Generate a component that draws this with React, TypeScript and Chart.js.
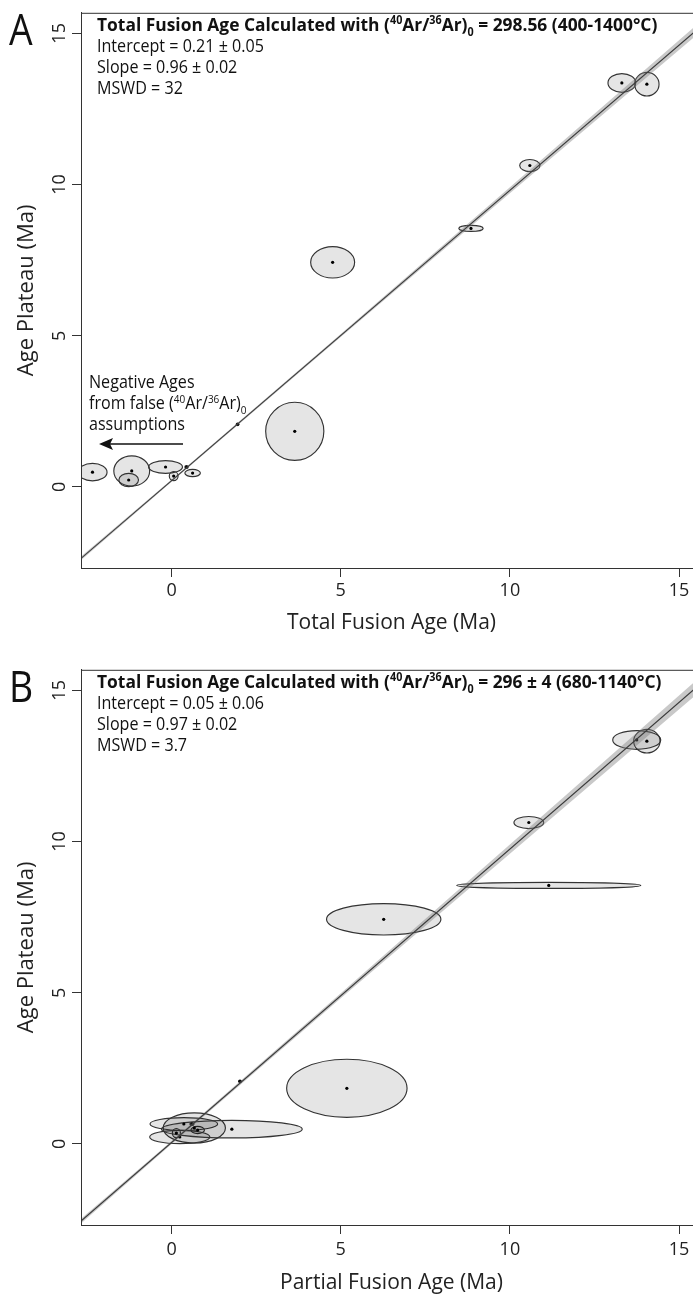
import React, { useEffect, useRef } from 'react';
import { Chart, registerables } from 'chart.js';

Chart.register(...registerables);

// ---------- shared axis ticks ----------
const xTicks = [0, 5, 10, 15];
const yTicks = [0, 5, 10, 15];
const axisMin = -2.68;
const axisMax = 15.68;

// ---------- data (Age Plateau is common to both panels) ----------
const plateauAge = [13.32, 13.36, 10.63, 8.55, 7.43, 1.84, 2.07, 0.46, 0.66, 0.36, 0.66, 0.53, 0.23, 0.49];
const plateauErr = [0.39, 0.31, 0.2, 0.1, 0.52, 0.96, 0.04, 0.12, 0.05, 0.15, 0.21, 0.5, 0.22, 0.29];

const totalFusionAge = [14.05, 13.31, 10.59, 8.85, 4.76, 3.64, 1.95, 0.62, 0.44, 0.06, -0.18, -1.18, -1.27, -2.34];
const totalFusionErr = [0.36, 0.41, 0.3, 0.36, 0.65, 0.86, 0.04, 0.23, 0.05, 0.13, 0.5, 0.53, 0.29, 0.43];

const partialFusionAge = [14.05, 13.75, 10.56, 11.15, 6.27, 5.18, 2.02, 0.77, 0.6, 0.14, 0.36, 0.67, 0.24, 1.78];
const partialFusionErr = [0.39, 0.71, 0.44, 2.72, 1.69, 1.78, 0.04, 0.2, 0.06, 0.12, 1.0, 0.92, 0.89, 2.08];

// regression fits (from the printed results)
const interceptA = 0.21;
const slopeA = 0.96;
const interceptB = 0.05;
const slopeB = 0.97;

// confidence envelope half-widths read at a few x positions
const bandX = [-2.68, 0, 5, 10, 15.68];
const bandHalfA = [0.06, 0.04, 0.05, 0.1, 0.17];
const bandHalfB = [0.08, 0.05, 0.08, 0.15, 0.24];

// ---------- texts ----------
type Seg = { t: string; sup?: boolean; sub?: boolean };
const ratioSegs = (tail: string): Seg[] => [
  { t: 'Total Fusion Age Calculated with (' },
  { t: '40', sup: true },
  { t: 'Ar/' },
  { t: '36', sup: true },
  { t: 'Ar)' },
  { t: '0', sub: true },
  { t: tail },
];
const headerA = ratioSegs(' = 298.56 (400-1400°C)');
const headerB = ratioSegs(' = 296 ± 4 (680-1140°C)');
const statsA = ['Intercept = 0.21 ± 0.05', 'Slope = 0.96 ± 0.02', 'MSWD = 32'];
const statsB = ['Intercept = 0.05 ± 0.06', 'Slope = 0.97 ± 0.02', 'MSWD = 3.7'];
const noteLine1: Seg[] = [{ t: 'Negative Ages' }];
const noteLine2: Seg[] = [{ t: 'from false (' }, { t: '40', sup: true }, { t: 'Ar/' }, { t: '36', sup: true }, { t: 'Ar)' }, { t: '0', sub: true }];
const noteLine3: Seg[] = [{ t: 'assumptions' }];

const FONT = '"Open Sans", "Noto Sans", sans-serif';

function drawRich(ctx: CanvasRenderingContext2D, segs: Seg[], x: number, y: number, size: number, weight: string, squeeze: number) {
  ctx.save();
  ctx.translate(x, y);
  ctx.scale(squeeze, 1);
  ctx.textBaseline = 'alphabetic';
  ctx.textAlign = 'left';
  ctx.fillStyle = '#111';
  let cx = 0;
  for (const s of segs) {
    const small = s.sup || s.sub;
    const fs = small ? size * 0.62 : size;
    ctx.font = `${weight} ${fs}px ${FONT}`;
    const dy = s.sup ? -size * 0.36 : s.sub ? size * 0.28 : 0;
    ctx.fillText(s.t, cx, dy);
    cx += ctx.measureText(s.t).width;
  }
  ctx.restore();
}

type Panel = {
  letter: string;
  xs: number[];
  xErr: number[];
  intercept: number;
  slope: number;
  bandHalf: number[];
  header: Seg[];
  stats: string[];
  xTitle: string;
  xTitleY: number;
  xTickPad: number;
  height: number;
  note: boolean;
};

function buildChart(canvas: HTMLCanvasElement, p: Panel) {
  const lower = bandX.map((x, i) => ({ x, y: p.intercept + p.slope * x - p.bandHalf[i] }));
  const upper = bandX.map((x, i) => ({ x, y: p.intercept + p.slope * x + p.bandHalf[i] }));
  const fitLine = [axisMin, axisMax].map((x) => ({ x, y: p.intercept + p.slope * x }));
  const centres = p.xs.map((x, i) => ({ x, y: plateauAge[i] }));

  const decor = {
    id: 'decor' + p.letter,
    beforeDatasetsDraw(chart: any) {
      const { ctx, chartArea: a, scales } = chart;
      const sx = scales.x;
      const sy = scales.y;
      ctx.save();
      ctx.beginPath();
      ctx.rect(a.left, a.top, a.right - a.left, a.bottom - a.top);
      ctx.clip();
      p.xs.forEach((x, i) => {
        const cx = sx.getPixelForValue(x);
        const cy = sy.getPixelForValue(plateauAge[i]);
        const rx = Math.abs(sx.getPixelForValue(x + p.xErr[i]) - cx);
        const ry = Math.abs(sy.getPixelForValue(plateauAge[i] + plateauErr[i]) - cy);
        ctx.beginPath();
        ctx.ellipse(cx, cy, rx, ry, 0, 0, Math.PI * 2);
        ctx.fillStyle = 'rgba(0,0,0,0.1)';
        ctx.fill();
        ctx.lineWidth = 1.15;
        ctx.strokeStyle = '#333';
        ctx.stroke();
      });
      ctx.restore();
    },
    afterDraw(chart: any) {
      const { ctx, chartArea: a } = chart;
      ctx.save();
      ctx.strokeStyle = '#333';
      ctx.lineWidth = 1;
      ctx.strokeRect(a.left + 0.5, a.top + 0.5, a.right - a.left, a.bottom - a.top);
      // panel letter
      ctx.fillStyle = '#111';
      ctx.font = `400 44px ${FONT}`;
      ctx.textBaseline = 'alphabetic';
      ctx.save();
      ctx.translate(9, a.top + 32);
      ctx.scale(0.85, 1);
      ctx.fillText(p.letter, 0, 0);
      ctx.restore();
      // header & statistics
      drawRich(ctx, p.header, a.left + 16, a.top + 18, 18.5, '700', 0.94);
      p.stats.forEach((s, i) => drawRich(ctx, [{ t: s }], a.left + 16, a.top + 39 + i * 21, 17.5, '400', 0.92));
      if (p.note) {
        drawRich(ctx, noteLine1, a.left + 8, 388, 17.5, '400', 0.92);
        drawRich(ctx, noteLine2, a.left + 8, 409, 17.5, '400', 0.92);
        drawRich(ctx, noteLine3, a.left + 8, 430, 17.5, '400', 0.92);
        // arrow
        ctx.strokeStyle = '#111';
        ctx.lineWidth = 1.6;
        ctx.beginPath();
        ctx.moveTo(183, 444);
        ctx.lineTo(106, 444);
        ctx.stroke();
        ctx.fillStyle = '#111';
        ctx.beginPath();
        ctx.moveTo(99, 444);
        ctx.lineTo(113, 438);
        ctx.lineTo(110, 444);
        ctx.lineTo(113, 450);
        ctx.closePath();
        ctx.fill();
      }
      ctx.restore();
    },
  };

  const tickFont = { family: FONT, size: 18 };
  const titleFont = { family: FONT, size: 21 };

  return new Chart(canvas, {
    type: 'line',
    data: {
      datasets: [
        { data: lower, borderWidth: 0, pointRadius: 0, borderColor: 'rgba(0,0,0,0)', fill: false },
        { data: upper, borderWidth: 0, pointRadius: 0, borderColor: 'rgba(0,0,0,0)', fill: '-1', backgroundColor: 'rgba(120,120,120,0.4)' },
        { data: fitLine, borderWidth: 1.1, borderColor: '#111', pointRadius: 0, fill: false },
        { data: centres, showLine: false, pointRadius: 1.6, pointBorderWidth: 0, pointBackgroundColor: '#000', fill: false },
      ],
    },
    options: {
      animation: false,
      responsive: false,
      events: [],
      layout: { padding: { left: 0, top: 10, right: 10, bottom: 0 } },
      plugins: { legend: { display: false }, tooltip: { enabled: false } },
      scales: {
        x: {
          type: 'linear',
          min: axisMin,
          max: axisMax,
          afterBuildTicks: (s: any) => { s.ticks = xTicks.map((v) => ({ value: v })); },
          afterFit: (s: any) => { s.height = p.height - 568; },
          grid: { drawOnChartArea: false, drawTicks: true, tickLength: 9, color: '#333', lineWidth: 1 },
          border: { display: true, color: '#333', width: 1 },
          ticks: { font: tickFont, color: '#222', padding: p.xTickPad, maxRotation: 0 },
          title: { display: true, text: p.xTitle, font: titleFont, color: '#222', padding: { top: 0, bottom: p.height - p.xTitleY - 12.6 } },
        },
        y: {
          type: 'linear',
          min: axisMin,
          max: axisMax,
          afterBuildTicks: (s: any) => { s.ticks = yTicks.map((v) => ({ value: v })); },
          afterFit: (s: any) => { s.width = 81; },
          grid: { drawOnChartArea: false, drawTicks: true, tickLength: 9, color: '#333', lineWidth: 1 },
          border: { display: true, color: '#333', width: 1 },
          ticks: { font: tickFont, color: '#222', padding: 2, minRotation: 90, maxRotation: 90, crossAlign: 'center' },
          title: { display: true, text: 'Age Plateau (Ma)', font: { family: FONT, size: 22 }, color: '#222', padding: { top: 14, bottom: 0 } },
        },
      },
    },
    plugins: [decor],
  } as any);
}

function PanelChart({ panel, top }: { panel: Panel; top: number }) {
  const ref = useRef<HTMLCanvasElement>(null);
  useEffect(() => {
    if (!ref.current) return;
    const chart = buildChart(ref.current, panel);
    return () => chart.destroy();
  }, [panel]);
  return (
    <canvas
      ref={ref}
      width={712}
      height={panel.height}
      style={{ position: 'absolute', left: 0, top, width: 712, height: panel.height, display: 'block' }}
    />
  );
}

const panelA: Panel = {
  letter: 'A',
  xs: totalFusionAge,
  xErr: totalFusionErr,
  intercept: interceptA,
  slope: slopeA,
  bandHalf: bandHalfA,
  header: headerA,
  stats: statsA,
  xTitle: 'Total Fusion Age (Ma)',
  xTitleY: 623,
  xTickPad: 3,
  height: 657,
  note: true,
};

const panelB: Panel = {
  letter: 'B',
  xs: partialFusionAge,
  xErr: partialFusionErr,
  intercept: interceptB,
  slope: slopeB,
  bandHalf: bandHalfB,
  header: headerB,
  stats: statsB,
  xTitle: 'Partial Fusion Age (Ma)',
  xTitleY: 626,
  xTickPad: 5,
  height: 645,
  note: false,
};

export default function App() {
  return (
    <div style={{ position: 'absolute', left: 0, top: 0, width: 693, height: 1302, overflow: 'hidden', background: '#fff' }}>
      <PanelChart panel={panelA} top={0} />
      <PanelChart panel={panelB} top={657} />
    </div>
  );
}
